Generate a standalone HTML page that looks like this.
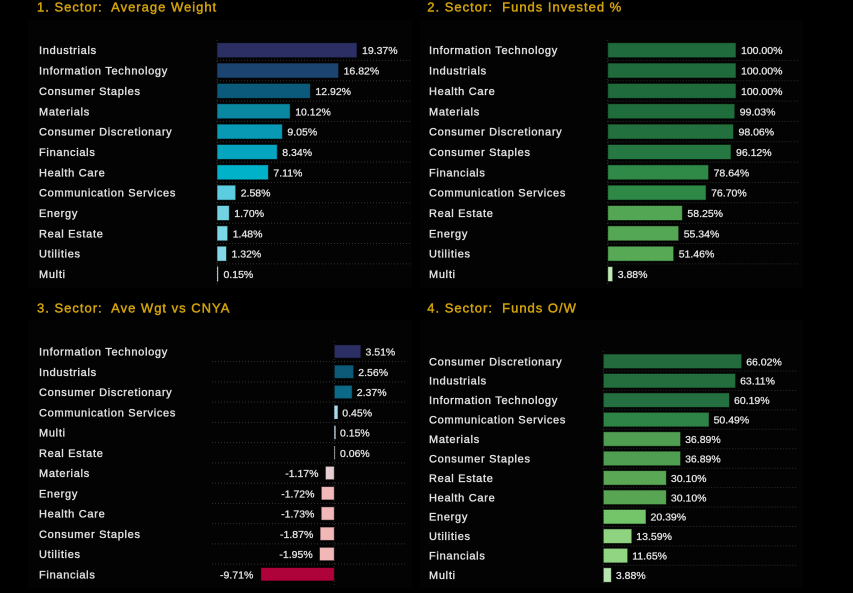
<!DOCTYPE html>
<html><head><meta charset="utf-8"><style>
html,body{margin:0;padding:0;background:#000;}
svg{display:block;}
.t{font-family:"Liberation Sans",sans-serif;font-size:13px;fill:#d2a20c;stroke:#d2a20c;stroke-width:0.45;letter-spacing:1px;white-space:pre;}
.l{font-family:"Liberation Sans",sans-serif;font-size:11px;fill:#e2e2e2;stroke:#e2e2e2;stroke-width:0.35;letter-spacing:0.7px;}
.v{font-family:"Liberation Sans",sans-serif;font-size:10.5px;fill:#e2e2e2;stroke:#e2e2e2;stroke-width:0.3;}
.g{stroke:#303030;stroke-width:1;stroke-dasharray:1 2;}
.b{stroke:rgba(0,0,0,0.55);stroke-width:1;}
</style></head><body>
<svg width="853" height="593" viewBox="0 0 853 593" xmlns="http://www.w3.org/2000/svg">
<rect width="853" height="593" fill="#000"/>
<rect x="28" y="20" width="384" height="268" fill="#030303"/>
<rect x="420" y="20" width="382" height="268" fill="#030303"/>
<rect x="28" y="320" width="384" height="268" fill="#030303"/>
<rect x="420" y="320" width="382" height="268" fill="#030303"/>

<!-- Panel 1 -->
<text class="t" x="37" y="11.7" xml:space="preserve">1. Sector:  Average Weight</text>
<g>
<line class="g" x1="217" y1="60.4" x2="410" y2="60.4"/>
<line class="g" x1="217" y1="80.7" x2="410" y2="80.7"/>
<line class="g" x1="217" y1="101.1" x2="410" y2="101.1"/>
<line class="g" x1="217" y1="121.4" x2="410" y2="121.4"/>
<line class="g" x1="217" y1="141.8" x2="410" y2="141.8"/>
<line class="g" x1="217" y1="162.1" x2="410" y2="162.1"/>
<line class="g" x1="217" y1="182.5" x2="410" y2="182.5"/>
<line class="g" x1="217" y1="202.8" x2="410" y2="202.8"/>
<line class="g" x1="217" y1="223.2" x2="410" y2="223.2"/>
<line class="g" x1="217" y1="243.5" x2="410" y2="243.5"/>
<line class="g" x1="217" y1="263.9" x2="410" y2="263.9"/>
<line class="g" x1="217" y1="40" x2="217" y2="285" stroke="#555"/>
</g>
<g>
<rect class="b" x="217" y="42.7" width="140" height="15" fill="#2b2f63"/>
<rect class="b" x="217" y="63.05" width="121.6" height="15" fill="#1b4570"/>
<rect class="b" x="217" y="83.4" width="93.4" height="15" fill="#0b5a7b"/>
<rect class="b" x="217" y="103.75" width="73.2" height="15" fill="#0a88a2"/>
<rect class="b" x="217" y="124.1" width="65.4" height="15" fill="#0899b4"/>
<rect class="b" x="217" y="144.45" width="60.3" height="15" fill="#05a4bf"/>
<rect class="b" x="217" y="164.8" width="51.4" height="15" fill="#00b2c9"/>
<rect class="b" x="217" y="185.15" width="18.7" height="15" fill="#5ccde0"/>
<rect class="b" x="217" y="205.5" width="12.3" height="15" fill="#73d3e3"/>
<rect class="b" x="217" y="225.85" width="10.7" height="15" fill="#7bd6e6"/>
<rect class="b" x="217" y="246.2" width="9.5" height="15" fill="#82d8e8"/>
<rect x="217" y="266.55" width="1.2" height="15" fill="#8ccbd8"/>
</g>
<g class="l">
<text x="39" y="54.2">Industrials</text>
<text x="39" y="74.55">Information Technology</text>
<text x="39" y="94.9">Consumer Staples</text>
<text x="39" y="115.25">Materials</text>
<text x="39" y="135.6">Consumer Discretionary</text>
<text x="39" y="155.95">Financials</text>
<text x="39" y="176.3">Health Care</text>
<text x="39" y="196.65">Communication Services</text>
<text x="39" y="217">Energy</text>
<text x="39" y="237.35">Real Estate</text>
<text x="39" y="257.7">Utilities</text>
<text x="39" y="278.05">Multi</text>
</g>
<g class="v">
<text x="362" y="54.2">19.37%</text>
<text x="343.6" y="74.55">16.82%</text>
<text x="315.4" y="94.9">12.92%</text>
<text x="295.2" y="115.25">10.12%</text>
<text x="287.4" y="135.6">9.05%</text>
<text x="282.3" y="155.95">8.34%</text>
<text x="273.4" y="176.3">7.11%</text>
<text x="240.7" y="196.65">2.58%</text>
<text x="234.3" y="217">1.70%</text>
<text x="232.7" y="237.35">1.48%</text>
<text x="231.5" y="257.7">1.32%</text>
<text x="223.5" y="278.05">0.15%</text>
</g>

<!-- Panel 2 -->
<text class="t" x="427.3" y="11.7" xml:space="preserve">2. Sector:  Funds Invested %</text>
<g>
<line class="g" x1="607.7" y1="60.4" x2="799" y2="60.4"/>
<line class="g" x1="607.7" y1="80.7" x2="799" y2="80.7"/>
<line class="g" x1="607.7" y1="101.1" x2="799" y2="101.1"/>
<line class="g" x1="607.7" y1="121.4" x2="799" y2="121.4"/>
<line class="g" x1="607.7" y1="141.8" x2="799" y2="141.8"/>
<line class="g" x1="607.7" y1="162.1" x2="799" y2="162.1"/>
<line class="g" x1="607.7" y1="182.5" x2="799" y2="182.5"/>
<line class="g" x1="607.7" y1="202.8" x2="799" y2="202.8"/>
<line class="g" x1="607.7" y1="223.2" x2="799" y2="223.2"/>
<line class="g" x1="607.7" y1="243.5" x2="799" y2="243.5"/>
<line class="g" x1="607.7" y1="263.9" x2="799" y2="263.9"/>
<line class="g" x1="607.7" y1="40" x2="607.7" y2="285" stroke="#555"/>
</g>
<g>
<rect class="b" x="607.7" y="42.7" width="128.3" height="15" fill="#1f6b3b"/>
<rect class="b" x="607.7" y="63.05" width="128.3" height="15" fill="#1f6b3b"/>
<rect class="b" x="607.7" y="83.4" width="128.3" height="15" fill="#1f6b3b"/>
<rect class="b" x="607.7" y="103.75" width="127.1" height="15" fill="#206d3c"/>
<rect class="b" x="607.7" y="124.1" width="125.8" height="15" fill="#22703e"/>
<rect class="b" x="607.7" y="144.45" width="123.3" height="15" fill="#257841"/>
<rect class="b" x="607.7" y="164.8" width="100.9" height="15" fill="#2e8a46"/>
<rect class="b" x="607.7" y="185.15" width="98.4" height="15" fill="#2e8846"/>
<rect class="b" x="607.7" y="205.5" width="74.7" height="15" fill="#53a654"/>
<rect class="b" x="607.7" y="225.85" width="71" height="15" fill="#54a754"/>
<rect class="b" x="607.7" y="246.2" width="66" height="15" fill="#57a956"/>
<rect class="b" x="607.7" y="266.55" width="5" height="15" fill="#bfeab6"/>
</g>
<g class="l">
<text x="429" y="54.2">Information Technology</text>
<text x="429" y="74.55">Industrials</text>
<text x="429" y="94.9">Health Care</text>
<text x="429" y="115.25">Materials</text>
<text x="429" y="135.6">Consumer Discretionary</text>
<text x="429" y="155.95">Consumer Staples</text>
<text x="429" y="176.3">Financials</text>
<text x="429" y="196.65">Communication Services</text>
<text x="429" y="217">Real Estate</text>
<text x="429" y="237.35">Energy</text>
<text x="429" y="257.7">Utilities</text>
<text x="429" y="278.05">Multi</text>
</g>
<g class="v">
<text x="741" y="54.2">100.00%</text>
<text x="741" y="74.55">100.00%</text>
<text x="741" y="94.9">100.00%</text>
<text x="739.8" y="115.25">99.03%</text>
<text x="738.5" y="135.6">98.06%</text>
<text x="736" y="155.95">96.12%</text>
<text x="713.6" y="176.3">78.64%</text>
<text x="711.1" y="196.65">76.70%</text>
<text x="687.4" y="217">58.25%</text>
<text x="683.7" y="237.35">55.34%</text>
<text x="678.7" y="257.7">51.46%</text>
<text x="617.7" y="278.05">3.88%</text>
</g>

<!-- Panel 3 -->
<text class="t" x="37" y="312.7" xml:space="preserve">3. Sector:  Ave Wgt vs CNYA</text>
<g>
<line class="g" x1="212" y1="361.6" x2="407" y2="361.6"/>
<line class="g" x1="212" y1="381.9" x2="407" y2="381.9"/>
<line class="g" x1="212" y1="402.1" x2="407" y2="402.1"/>
<line class="g" x1="212" y1="422.4" x2="407" y2="422.4"/>
<line class="g" x1="212" y1="442.6" x2="407" y2="442.6"/>
<line class="g" x1="212" y1="462.9" x2="407" y2="462.9"/>
<line class="g" x1="212" y1="483.1" x2="407" y2="483.1"/>
<line class="g" x1="212" y1="503.4" x2="407" y2="503.4"/>
<line class="g" x1="212" y1="523.6" x2="407" y2="523.6"/>
<line class="g" x1="212" y1="543.9" x2="407" y2="543.9"/>
<line class="g" x1="212" y1="564.1" x2="407" y2="564.1"/>
<line class="g" x1="334.3" y1="341" x2="334.3" y2="585" stroke="#666"/>
</g>
<g>
<rect class="b" x="334.3" y="344.8" width="26.6" height="13.4" fill="#2b2f63"/>
<rect class="b" x="334.3" y="365.05" width="19.4" height="13.4" fill="#0d5a78"/>
<rect class="b" x="334.3" y="385.3" width="17.9" height="13.4" fill="#0c6a86"/>
<rect x="334.3" y="405.55" width="3.4" height="13.4" fill="#a9dcea"/>
<rect x="334.3" y="425.8" width="1.3" height="13.4" fill="#c8dde8"/>
<rect x="334.3" y="446.05" width="0.8" height="13.4" fill="#bbbbbb"/>
<rect class="b" x="325.4" y="466.3" width="8.9" height="13.4" fill="#e6cfd2"/>
<rect class="b" x="321.3" y="486.55" width="13" height="13.4" fill="#f2b9b9"/>
<rect class="b" x="321.2" y="506.8" width="13.1" height="13.4" fill="#f2b8b8"/>
<rect class="b" x="320.1" y="527.05" width="14.2" height="13.4" fill="#f2b8b8"/>
<rect class="b" x="319.5" y="547.3" width="14.8" height="13.4" fill="#f2b8b8"/>
<rect class="b" x="260.8" y="567.55" width="73.5" height="13.4" fill="#b0023a"/>
</g>
<g class="l">
<text x="39" y="355.5">Information Technology</text>
<text x="39" y="375.75">Industrials</text>
<text x="39" y="396">Consumer Discretionary</text>
<text x="39" y="416.25">Communication Services</text>
<text x="39" y="436.5">Multi</text>
<text x="39" y="456.75">Real Estate</text>
<text x="39" y="477">Materials</text>
<text x="39" y="497.25">Energy</text>
<text x="39" y="517.5">Health Care</text>
<text x="39" y="537.75">Consumer Staples</text>
<text x="39" y="558">Utilities</text>
<text x="39" y="578.25">Financials</text>
</g>
<g class="v">
<text x="365.5" y="355.5">3.51%</text>
<text x="358.3" y="375.75">2.56%</text>
<text x="356.8" y="396">2.37%</text>
<text x="342.3" y="416.25">0.45%</text>
<text x="340" y="436.5">0.15%</text>
<text x="340" y="456.75">0.06%</text>
<text x="318.5" y="477" text-anchor="end">-1.17%</text>
<text x="314.5" y="497.25" text-anchor="end">-1.72%</text>
<text x="314.4" y="517.5" text-anchor="end">-1.73%</text>
<text x="313.3" y="537.75" text-anchor="end">-1.87%</text>
<text x="312.7" y="558" text-anchor="end">-1.95%</text>
<text x="253.3" y="578.25" text-anchor="end">-9.71%</text>
</g>

<!-- Panel 4 -->
<text class="t" x="427.3" y="312.7" xml:space="preserve">4. Sector:  Funds O/W</text>
<g>
<line class="g" x1="603.3" y1="371" x2="798" y2="371"/>
<line class="g" x1="603.3" y1="390.4" x2="798" y2="390.4"/>
<line class="g" x1="603.3" y1="409.9" x2="798" y2="409.9"/>
<line class="g" x1="603.3" y1="429.3" x2="798" y2="429.3"/>
<line class="g" x1="603.3" y1="448.7" x2="798" y2="448.7"/>
<line class="g" x1="603.3" y1="468.2" x2="798" y2="468.2"/>
<line class="g" x1="603.3" y1="487.6" x2="798" y2="487.6"/>
<line class="g" x1="603.3" y1="507" x2="798" y2="507"/>
<line class="g" x1="603.3" y1="526.5" x2="798" y2="526.5"/>
<line class="g" x1="603.3" y1="545.9" x2="798" y2="545.9"/>
<line class="g" x1="603.3" y1="565.3" x2="798" y2="565.3"/>
<line class="g" x1="603.3" y1="351" x2="603.3" y2="585" stroke="#555"/>
</g>
<g>
<rect class="b" x="603.3" y="354" width="138.4" height="14.6" fill="#236b3c"/>
<rect class="b" x="603.3" y="373.43" width="132.3" height="14.6" fill="#246d3d"/>
<rect class="b" x="603.3" y="392.86" width="126.2" height="14.6" fill="#257040"/>
<rect class="b" x="603.3" y="412.29" width="105.8" height="14.6" fill="#2e8346"/>
<rect class="b" x="603.3" y="431.72" width="77.3" height="14.6" fill="#4f9e51"/>
<rect class="b" x="603.3" y="451.15" width="77.3" height="14.6" fill="#4f9e51"/>
<rect class="b" x="603.3" y="470.58" width="63.1" height="14.6" fill="#5aa855"/>
<rect class="b" x="603.3" y="490.01" width="63.1" height="14.6" fill="#58a654"/>
<rect class="b" x="603.3" y="509.44" width="42.7" height="14.6" fill="#74c46a"/>
<rect class="b" x="603.3" y="528.87" width="28.5" height="14.6" fill="#8fd380"/>
<rect class="b" x="603.3" y="548.3" width="24.4" height="14.6" fill="#91d583"/>
<rect class="b" x="603.3" y="567.73" width="8.1" height="14.6" fill="#b8e6b0"/>
</g>
<g class="l">
<text x="429" y="365.3">Consumer Discretionary</text>
<text x="429" y="384.73">Industrials</text>
<text x="429" y="404.16">Information Technology</text>
<text x="429" y="423.59">Communication Services</text>
<text x="429" y="443.02">Materials</text>
<text x="429" y="462.45">Consumer Staples</text>
<text x="429" y="481.88">Real Estate</text>
<text x="429" y="501.31">Health Care</text>
<text x="429" y="520.74">Energy</text>
<text x="429" y="540.17">Utilities</text>
<text x="429" y="559.6">Financials</text>
<text x="429" y="579.03">Multi</text>
</g>
<g class="v">
<text x="746.2" y="365.3">66.02%</text>
<text x="740.1" y="384.73">63.11%</text>
<text x="734" y="404.16">60.19%</text>
<text x="713.6" y="423.59">50.49%</text>
<text x="685.1" y="443.02">36.89%</text>
<text x="685.1" y="462.45">36.89%</text>
<text x="670.9" y="481.88">30.10%</text>
<text x="670.9" y="501.31">30.10%</text>
<text x="650.5" y="520.74">20.39%</text>
<text x="636.3" y="540.17">13.59%</text>
<text x="632.2" y="559.6">11.65%</text>
<text x="615.9" y="579.03">3.88%</text>
</g>
</svg>
</body></html>
